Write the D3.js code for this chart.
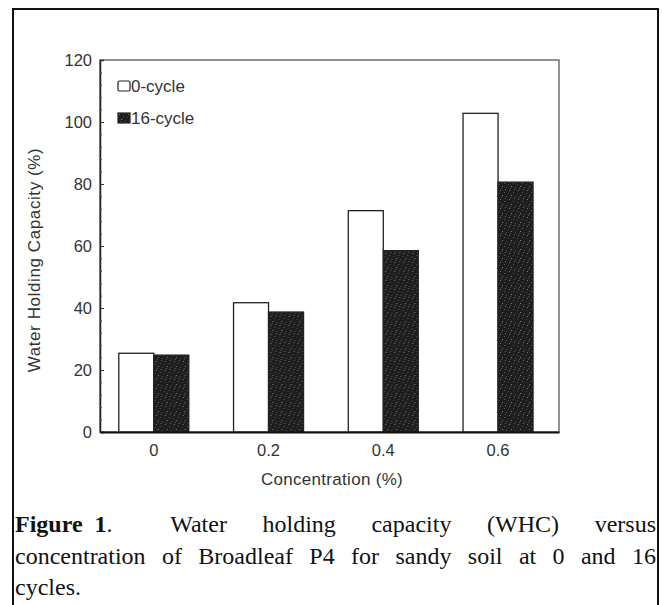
<!DOCTYPE html>
<html>
<head>
<meta charset="utf-8">
<script src="https://cdn.jsdelivr.net/npm/d3@7"></script>
<style>
  html, body { margin: 0; padding: 0; background: #fff; }
  svg { display: block; }
</style>
</head>
<body>
<svg id="chart" width="662" height="605"></svg>
<script>
// data
const concentrations = ["0", "0.2", "0.4", "0.6"];
const seriesNames = ["0-cycle", "16-cycle"];
const cycle0 = [25.4, 41.7, 71.4, 102.8];
const cycle16 = [24.8, 38.7, 58.5, 80.6];
const yTicks = [0, 20, 40, 60, 80, 100, 120];
const captionLines = [
  ["Figure 1.", "Water", "holding", "capacity", "(WHC)", "versus"],
  ["concentration", "of", "Broadleaf", "P4", "for", "sandy", "soil", "at", "0", "and", "16"],
  ["cycles."]
];

const svg = d3.select("#chart");
const m = { left: 100, top: 60, right: 559, bottom: 432 };

// outer frame of the figure
svg.append("rect")
  .attr("x", 13).attr("y", 9)
  .attr("width", 645).attr("height", 640)
  .attr("fill", "none").attr("stroke", "#111").attr("stroke-width", 2);

// speckled fill for the 16-cycle bars
const defs = svg.append("defs");
const pat = defs.append("pattern")
  .attr("id", "speckle").attr("patternUnits", "userSpaceOnUse")
  .attr("width", 9).attr("height", 9);
pat.append("rect").attr("width", 9).attr("height", 9).attr("fill", "#1e1e1e");
[[1, 1, "#777"], [5, 3, "#5a5a5a"], [3, 6, "#808080"], [7, 7, "#505050"], [0, 4, "#444"], [6, 0, "#666"], [2, 8, "#5c5c5c"]]
  .forEach(function(p) {
    pat.append("rect").attr("x", p[0]).attr("y", p[1]).attr("width", 1).attr("height", 1).attr("fill", p[2]);
  });

const y = d3.scaleLinear().domain([0, 120]).range([m.bottom, m.top]);
const x0 = d3.scaleBand().domain(concentrations)
  .range([m.left, m.right]).paddingInner(0.39).paddingOuter(0.195).align(0.42);
const x1 = d3.scaleBand().domain(seriesNames).range([0, x0.bandwidth()]);

const rows = concentrations.map(function(c, i) {
  return { c: c, vals: [ { s: seriesNames[0], v: cycle0[i] }, { s: seriesNames[1], v: cycle16[i] } ] };
});

// plot frame
svg.append("rect")
  .attr("x", m.left).attr("y", m.top)
  .attr("width", m.right - m.left).attr("height", m.bottom - m.top)
  .attr("fill", "none").attr("stroke", "#666").attr("stroke-width", 1.4);

// bars
svg.append("g").selectAll("g.grp").data(rows).join("g")
  .attr("class", "grp")
  .attr("transform", function(d) { return "translate(" + x0(d.c) + ",0)"; })
  .selectAll("rect").data(function(d) { return d.vals; }).join("rect")
  .attr("x", function(d) { return x1(d.s); })
  .attr("y", function(d) { return y(d.v); })
  .attr("width", x1.bandwidth())
  .attr("height", function(d) { return y(0) - y(d.v); })
  .attr("fill", function(d) { return d.s === "0-cycle" ? "#fff" : "url(#speckle)"; })
  .attr("stroke", "#222").attr("stroke-width", 1.3);

const font = "Liberation Sans, Arial, sans-serif";

// y axis with inward ticks
const yAxis = svg.append("g").attr("transform", "translate(" + m.left + ",0)")
  .call(d3.axisLeft(y).tickValues(yTicks).tickSize(-4).tickPadding(8).tickFormat(d3.format("d")));
yAxis.select(".domain").attr("stroke", "#222").attr("stroke-width", 1.5);
yAxis.selectAll(".tick line").attr("stroke", "#333");
yAxis.selectAll("text").attr("font-family", font).attr("font-size", 16.5).attr("fill", "#333");

// minor ticks
svg.append("g").attr("transform", "translate(" + m.left + ",0)")
  .call(d3.axisLeft(y).tickValues(d3.range(0, 121, 4).filter(function(v) { return v % 20 !== 0; }))
    .tickSize(-2).tickFormat(""))
  .call(function(s) { s.select(".domain").remove(); s.selectAll("line").attr("stroke", "#444"); });

// x axis, labels only
const xAxis = svg.append("g").attr("transform", "translate(0," + m.bottom + ")")
  .call(d3.axisBottom(x0).tickSize(0).tickPadding(12));
xAxis.select(".domain").attr("stroke", "#111").attr("stroke-width", 2);
xAxis.selectAll("text").attr("font-family", font).attr("font-size", 16.5).attr("fill", "#333");

// axis titles
svg.append("text")
  .attr("transform", "translate(40," + ((m.top + m.bottom) / 2 + 14) + ") rotate(-90)")
  .attr("text-anchor", "middle")
  .attr("font-family", font).attr("font-size", 17).attr("letter-spacing", 0.6).attr("fill", "#333")
  .text("Water Holding Capacity (%)");
svg.append("text")
  .attr("x", 332).attr("y", 485)
  .attr("text-anchor", "middle")
  .attr("font-family", font).attr("font-size", 17).attr("letter-spacing", 0.3).attr("fill", "#333")
  .text("Concentration (%)");

// legend
const leg = svg.append("g").attr("transform", "translate(118,81)");
seriesNames.forEach(function(s, i) {
  const row = leg.append("g").attr("transform", "translate(0," + (i * 32) + ")");
  row.append("rect").attr("width", 12).attr("height", 10).attr("rx", i === 0 ? 1.5 : 0)
    .attr("fill", i === 0 ? "#fff" : "url(#speckle)").attr("stroke", "#222").attr("stroke-width", 1.2);
  row.append("text").attr("x", 13).attr("y", 5).attr("dy", "0.35em")
    .attr("font-family", font).attr("font-size", 17).attr("fill", "#333")
    .text(s);
});

// caption, justified across the frame
const capLeft = 15, capRight = 656;
const capBase = [532, 564, 595];
captionLines.forEach(function(words, li) {
  const line = svg.append("g");
  const nodes = words.map(function(w, wi) {
    const t = line.append("text")
      .attr("y", capBase[li])
      .attr("font-family", "Liberation Serif, 'Times New Roman', serif")
      .attr("font-size", 24)
      .attr("fill", "#111");
    if (li === 0 && wi === 0) {
      t.append("tspan").attr("font-weight", "bold").text("Figure 1");
      t.append("tspan").text(".");
      t.attr("word-spacing", 6);
    } else {
      t.text(w);
    }
    return t;
  });
  const widths = nodes.map(function(n) { return n.node().getComputedTextLength(); });
  const total = d3.sum(widths);
  const justify = li < captionLines.length - 1;
  // the first gap after "Figure 1." is wider, like a tab
  const extra = li === 0 ? 22 : 0;
  const gap = justify && words.length > 1 ? (capRight - capLeft - total - extra) / (words.length - 1) : 6;
  let cx = capLeft;
  nodes.forEach(function(n, i) {
    n.attr("x", cx);
    cx += widths[i] + gap + (i === 0 ? extra : 0);
  });
});
</script>
</body>
</html>
